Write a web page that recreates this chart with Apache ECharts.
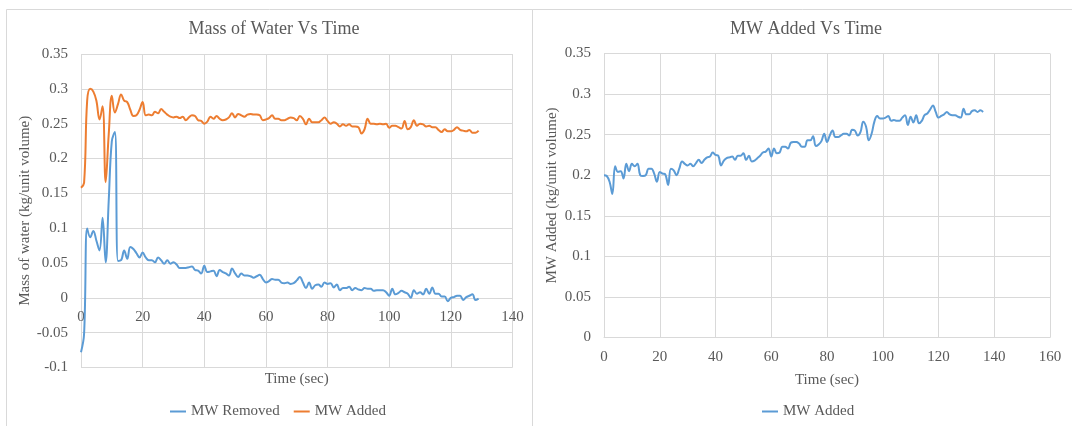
<!DOCTYPE html>
<html>
<head>
<meta charset="utf-8">
<script src="https://cdn.jsdelivr.net/npm/echarts@6/dist/echarts.min.js"></script>
<style>
  html, body { margin: 0; padding: 0; background: #ffffff; }
  #chart { width: 1072px; height: 426px; }
</style>
</head>
<body>
<div id="chart"></div>
<script>
// Left panel: mass of water removed / added over time (sec)
const leftTime = [0,1,2,3,4,5,6,7,8,9,10,11,12,13,14,15,16,17,18,19,20,21,22,23,24,25,26,27,28,29,30,31,32,33,34,35,36,37,38,39,40,41,42,43,44,45,46,47,48,49,50,51,52,53,54,55,56,57,58,59,60,61,62,63,64,65,66,67,68,69,70,71,72,73,74,75,76,77,78,79,80,81,82,83,84,85,86,87,88,89,90,91,92,93,94,95,96,97,98,99,100,101,102,103,104,105,106,107,108,109,110,111,112,113,114,115,116,117,118,119,120,121,122,123,124,125,126,127,128,129];

const mwRemoved = [-0.078,-0.052,0.0995,0.087,0.096,0.082,0.068,0.115,0.051,0.14,0.225,0.238,0.053,0.054,0.068,0.056,0.073,0.070,0.064,0.058,
  0.065,0.058,0.054,0.054,0.051,0.058,0.054,0.049,0.054,0.049,0.051,0.048,0.043,0.043,0.043,0.044,0.045,0.040,0.039,0.035,
  0.046,0.037,0.038,0.039,0.031,0.040,0.037,0.035,0.032,0.042,0.035,0.030,0.035,0.032,0.032,0.031,0.029,0.031,0.033,0.027,
  0.022,0.024,0.027,0.026,0.026,0.022,0.021,0.022,0.020,0.021,0.025,0.030,0.022,0.014,0.022,0.013,0.018,0.019,0.016,0.022,
  0.020,0.021,0.015,0.019,0.011,0.014,0.014,0.016,0.011,0.014,0.012,0.011,0.014,0.013,0.013,0.010,0.011,0.011,0.011,0.008,
  0.003,0.013,0.005,0.007,0.010,0.008,0.006,0.000,0.011,0.006,0.008,0.005,0.013,0.006,0.015,0.006,0.006,0.002,0.002,-0.005,
  0.000,0.001,0.003,0.003,-0.003,0.001,0.003,0.005,-0.003,-0.001];

const mwAddedLeft = [0.158,0.165,0.283,0.300,0.296,0.283,0.256,0.275,0.166,0.235,0.290,0.266,0.278,0.292,0.283,0.281,0.270,0.261,0.262,0.270,
  0.281,0.262,0.263,0.262,0.267,0.265,0.271,0.267,0.263,0.260,0.259,0.260,0.258,0.260,0.255,0.259,0.262,0.261,0.255,0.254,
  0.250,0.253,0.260,0.257,0.261,0.257,0.255,0.256,0.259,0.265,0.259,0.264,0.262,0.260,0.263,0.264,0.263,0.263,0.262,0.255,
  0.256,0.258,0.262,0.257,0.257,0.255,0.255,0.257,0.259,0.258,0.255,0.261,0.257,0.249,0.257,0.252,0.252,0.252,0.255,0.259,
  0.254,0.250,0.252,0.250,0.246,0.249,0.247,0.249,0.246,0.246,0.245,0.236,0.242,0.257,0.250,0.250,0.249,0.250,0.249,0.250,
  0.244,0.247,0.247,0.245,0.243,0.254,0.242,0.245,0.255,0.247,0.250,0.249,0.246,0.247,0.245,0.245,0.241,0.238,0.242,0.239,
  0.239,0.241,0.245,0.241,0.240,0.239,0.241,0.237,0.237,0.240];

// Right panel: MW added over time (sec)
const rightTime = [0,1,2,3,4,5,6,7,8,9,10,11,12,13,14,15,16,17,18,19,20,21,22,23,24,25,26,27,28,29,30,31,32,33,34,35,36,37,38,39,40,41,42,43,44,45,46,47,48,49,50,51,52,53,54,55,56,57,58,59,60,61,62,63,64,65,66,67,68,69,70,71,72,73,74,75,76,77,78,79,80,81,82,83,84,85,86,87,88,89,90,91,92,93,94,95,96,97,98,99,100,101,102,103,104,105,106,107,108,109,110,111,112,113,114,115,116,117,118,119,120,121,122,123,124,125,126,127,128,129,130,131,132,133,134,135,136];

const mwAddedRight = [0.200,0.199,0.192,0.177,0.211,0.204,0.205,0.196,0.214,0.205,0.214,0.211,0.214,0.200,0.199,0.200,0.208,0.208,0.202,0.192,
  0.204,0.202,0.201,0.188,0.208,0.206,0.200,0.208,0.217,0.214,0.212,0.214,0.211,0.215,0.219,0.215,0.219,0.222,0.223,0.228,
  0.225,0.224,0.212,0.218,0.221,0.222,0.223,0.219,0.224,0.224,0.227,0.219,0.224,0.217,0.218,0.221,0.224,0.228,0.229,0.233,
  0.223,0.233,0.227,0.228,0.235,0.235,0.233,0.240,0.241,0.241,0.239,0.235,0.235,0.243,0.243,0.248,0.236,0.238,0.242,0.251,
  0.241,0.249,0.255,0.247,0.247,0.249,0.251,0.251,0.249,0.256,0.255,0.249,0.253,0.266,0.260,0.243,0.251,0.266,0.273,0.270,
  0.270,0.271,0.273,0.267,0.268,0.267,0.267,0.271,0.274,0.262,0.272,0.265,0.274,0.264,0.267,0.274,0.276,0.281,0.286,0.278,
  0.271,0.273,0.275,0.278,0.275,0.274,0.274,0.272,0.271,0.282,0.275,0.275,0.279,0.280,0.278,0.280,0.278];

const leftXTicks = { min: 0, max: 140, interval: 20 };
const leftYTicks = { min: -0.1, max: 0.35, interval: 0.05 };
const rightXTicks = { min: 0, max: 160, interval: 20 };
const rightYTicks = { min: 0, max: 0.35, interval: 0.05 };

const FONT = '"Liberation Serif", "Times New Roman", serif';
const TEXT = '#595959';
const GRID = '#d9d9d9';
const BLUE = '#5b9bd5';
const ORANGE = '#ed7d31';

const leftGrid = { left: 81, top: 54, width: 431.5, height: 313.5 };
const rightGrid = { left: 604, top: 53.5, width: 446, height: 284 };

function pair(xs, ys) { return xs.map((x, i) => [x, ys[i]]); }

// lift the time axis from the grid bottom up to the value axis' zero line
function zeroLift(grid, yTicks) {
  return -grid.height * (0 - yTicks.min) / (yTicks.max - yTicks.min);
}

function xAxisOf(gridIndex, ticks, nameGap, offset) {
  return {
    type: 'value', gridIndex, ...ticks, offset,
    name: 'Time (sec)', nameLocation: 'middle', nameGap,
    nameTextStyle: { fontFamily: FONT, fontSize: 15, color: TEXT },
    axisLine: { show: true, onZero: false, lineStyle: { color: GRID, width: 1 } },
    axisTick: { show: false },
    axisLabel: { fontFamily: FONT, fontSize: 15, color: TEXT, margin: 12 },
    splitLine: { show: true, lineStyle: { color: GRID, width: 1 } }
  };
}

function yAxisOf(gridIndex, ticks, name, nameGap) {
  return {
    type: 'value', gridIndex, ...ticks,
    name, nameLocation: 'middle', nameGap,
    nameTextStyle: { fontFamily: FONT, fontSize: 15, color: TEXT },
    axisLine: { show: false, onZero: false },
    axisTick: { show: false },
    axisLabel: { fontFamily: FONT, fontSize: 15, color: TEXT, margin: 13 },
    splitLine: { show: true, lineStyle: { color: GRID, width: 1 } }
  };
}

function lineSeries(name, data, color, xi, yi) {
  return {
    name, type: 'line', xAxisIndex: xi, yAxisIndex: yi,
    data, smooth: 0.4, showSymbol: false, symbol: 'none',
    lineStyle: { color, width: 2 }, itemStyle: { color },
    animation: false
  };
}

const chart = echarts.init(document.getElementById('chart'), null, { renderer: 'canvas' });

chart.setOption({
  backgroundColor: '#ffffff',
  animation: false,
  title: [
    { text: 'Mass of Water Vs Time', left: 269, top: 15, textAlign: 'center',
      textStyle: { fontFamily: FONT, fontSize: 18, fontWeight: 'normal', color: TEXT } },
    { text: 'MW Added Vs Time', left: 801, top: 15, textAlign: 'center',
      textStyle: { fontFamily: FONT, fontSize: 18, fontWeight: 'normal', color: TEXT } }
  ],
  legend: [
    { data: ['MW Removed', 'MW Added'], left: 165, top: 399,
      itemWidth: 16, itemHeight: 2, itemGap: 14, icon: 'rect',
      textStyle: { fontFamily: FONT, fontSize: 15, color: TEXT } },
    { data: ['MW Added '], left: 757, top: 399,
      itemWidth: 16, itemHeight: 2, icon: 'rect',
      textStyle: { fontFamily: FONT, fontSize: 15, color: TEXT },
      formatter: n => n.trim() }
  ],
  grid: [leftGrid, rightGrid],
  xAxis: [
    xAxisOf(0, leftXTicks, 74, zeroLift(leftGrid, leftYTicks)),
    xAxisOf(1, rightXTicks, 35, 0)
  ],
  yAxis: [
    yAxisOf(0, leftYTicks, 'Mass of water (kg/unit volume)', 45),
    yAxisOf(1, rightYTicks, 'MW Added (kg/unit volume)', 44)
  ],
  series: [
    lineSeries('MW Removed', pair(leftTime, mwRemoved), BLUE, 0, 0),
    lineSeries('MW Added', pair(leftTime, mwAddedLeft), ORANGE, 0, 0),
    lineSeries('MW Added ', pair(rightTime, mwAddedRight), BLUE, 1, 1)
  ],
  graphic: [
    // panel frames
    { type: 'rect', shape: { x: 6.5, y: 9.5, width: 526, height: 430 }, silent: true,
      style: { fill: 'none', stroke: GRID, lineWidth: 1 } },
    { type: 'rect', shape: { x: 532.5, y: 9.5, width: 545, height: 430 }, silent: true,
      style: { fill: 'none', stroke: GRID, lineWidth: 1 } }
  ]
});
</script>
</body>
</html>
